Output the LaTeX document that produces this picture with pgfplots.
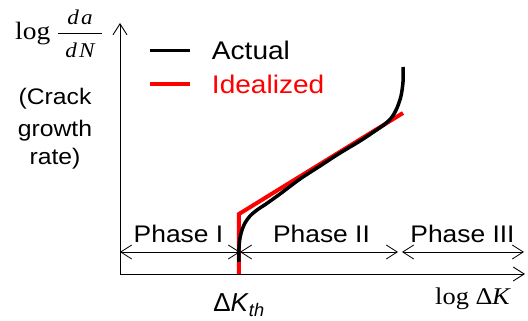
\documentclass[border=0pt]{standalone}
\usepackage{graphicx}
\usepackage{pgfplots}
\pgfplotsset{compat=1.18}
\usetikzlibrary{arrows.meta}
\usepackage{fontspec}
\setmainfont{Liberation Sans}
\newfontfamily\serif{Liberation Serif}
\newcommand\wide[1]{\scalebox{1.1}[1]{#1}}
\tikzset{barb/.tip={Straight Barb[length=11pt,width=14pt]}}
\begin{document}
\begin{tikzpicture}
\begin{axis}[
  scale only axis, width=405pt, height=251pt,
  xmin=0, xmax=405, ymin=0, ymax=251,
  axis lines=left,
  axis line style={line width=0.9pt, -barb},
  xtick=\empty, ytick=\empty,
  clip=false,
  reverse legend,
  legend cell align=left,
  legend image code/.code={\draw[#1] (0pt,3.5pt) -- (40pt,3.5pt);},
  legend style={draw=none, fill=none, at={(axis cs:28,232)}, anchor=north west,
    inner sep=0pt, outer sep=0pt, row sep=9.5pt,
    font=\fontsize{25.5}{25.5}\selectfont,
    /tikz/every odd column/.append style={column sep=20pt},
    nodes={inner sep=0pt, text height=18pt, text depth=6pt}},
]
% invisible frame that fixes the picture's extent
\path (axis cs:-120,-47) rectangle (axis cs:408,274);

\addplot[red, line width=4pt] coordinates {(119,0) (119,60) (283,161)};
\addlegendentry{\wide{\textcolor{red}{Idealized}}}
\addplot[black, line width=3.5pt, smooth, tension=0.5] coordinates {
(119,12) (119,26) (120,36) (122,44) (125,51) (130,58) (137,64) (146,70)
(160,80) (180,95) (200,108) (220,121) (240,133) (255,143) (265,150)
(272,157) (277,166) (281,178) (283,192) (283,207)};
\addlegendentry{\wide{Actual}}

% phase arrows
\draw[line width=0.8pt, barb-barb] (axis cs:0,22) -- (axis cs:120,22);
\draw[line width=0.8pt, barb-barb] (axis cs:120,22) -- (axis cs:278,22);
\draw[line width=0.8pt, barb-barb] (axis cs:282,22) -- (axis cs:404,22);
\node[anchor=base, font=\fontsize{24}{24}\selectfont, inner sep=0pt] at (axis cs:58.5,31) {\wide{Phase I}};
\node[anchor=base, font=\fontsize{24}{24}\selectfont, inner sep=0pt] at (axis cs:201.5,31) {\wide{Phase II}};
\node[anchor=base, font=\fontsize{24}{24}\selectfont, inner sep=0pt] at (axis cs:342.5,31) {\wide{Phase III}};

% axis labels
\node[anchor=base, font=\fontsize{26}{26}\selectfont, inner sep=0pt] at (axis cs:119,-38) {Δ\textit{K}\textsubscript{\textit{th}}};
\node[anchor=base, font=\fontsize{24}{24}\selectfont\serif, inner sep=0pt] at (axis cs:353,-31) {\wide{log Δ\kern-0.5pt\textit{K}}};
\node[anchor=base west, font=\fontsize{25}{25}\selectfont\serif, inner sep=0pt] at (axis cs:-105,234) {\wide{log}};
% the fraction da/dN
\node[anchor=base, font=\fontsize{21}{21}\selectfont\serif\itshape, inner sep=0pt] at (axis cs:-40,249) {\wide{d\kern2pt a}};
\node[anchor=base, font=\fontsize{21}{21}\selectfont\serif\itshape, inner sep=0pt] at (axis cs:-40,216) {\wide{d\kern2pt N}};
\draw[line width=0.8pt] (axis cs:-62,241) -- (axis cs:-18,241);
% Crack growth rate
\node[anchor=base, font=\fontsize{22.5}{22.5}\selectfont, inner sep=0pt] at (axis cs:-65,169) {\wide{(Crack}};
\node[anchor=base, font=\fontsize{22.5}{22.5}\selectfont, inner sep=0pt] at (axis cs:-65,137) {\wide{growth}};
\node[anchor=base, font=\fontsize{22.5}{22.5}\selectfont, inner sep=0pt] at (axis cs:-65,109) {\wide{rate)}};
\end{axis}
\end{tikzpicture}
\end{document}
